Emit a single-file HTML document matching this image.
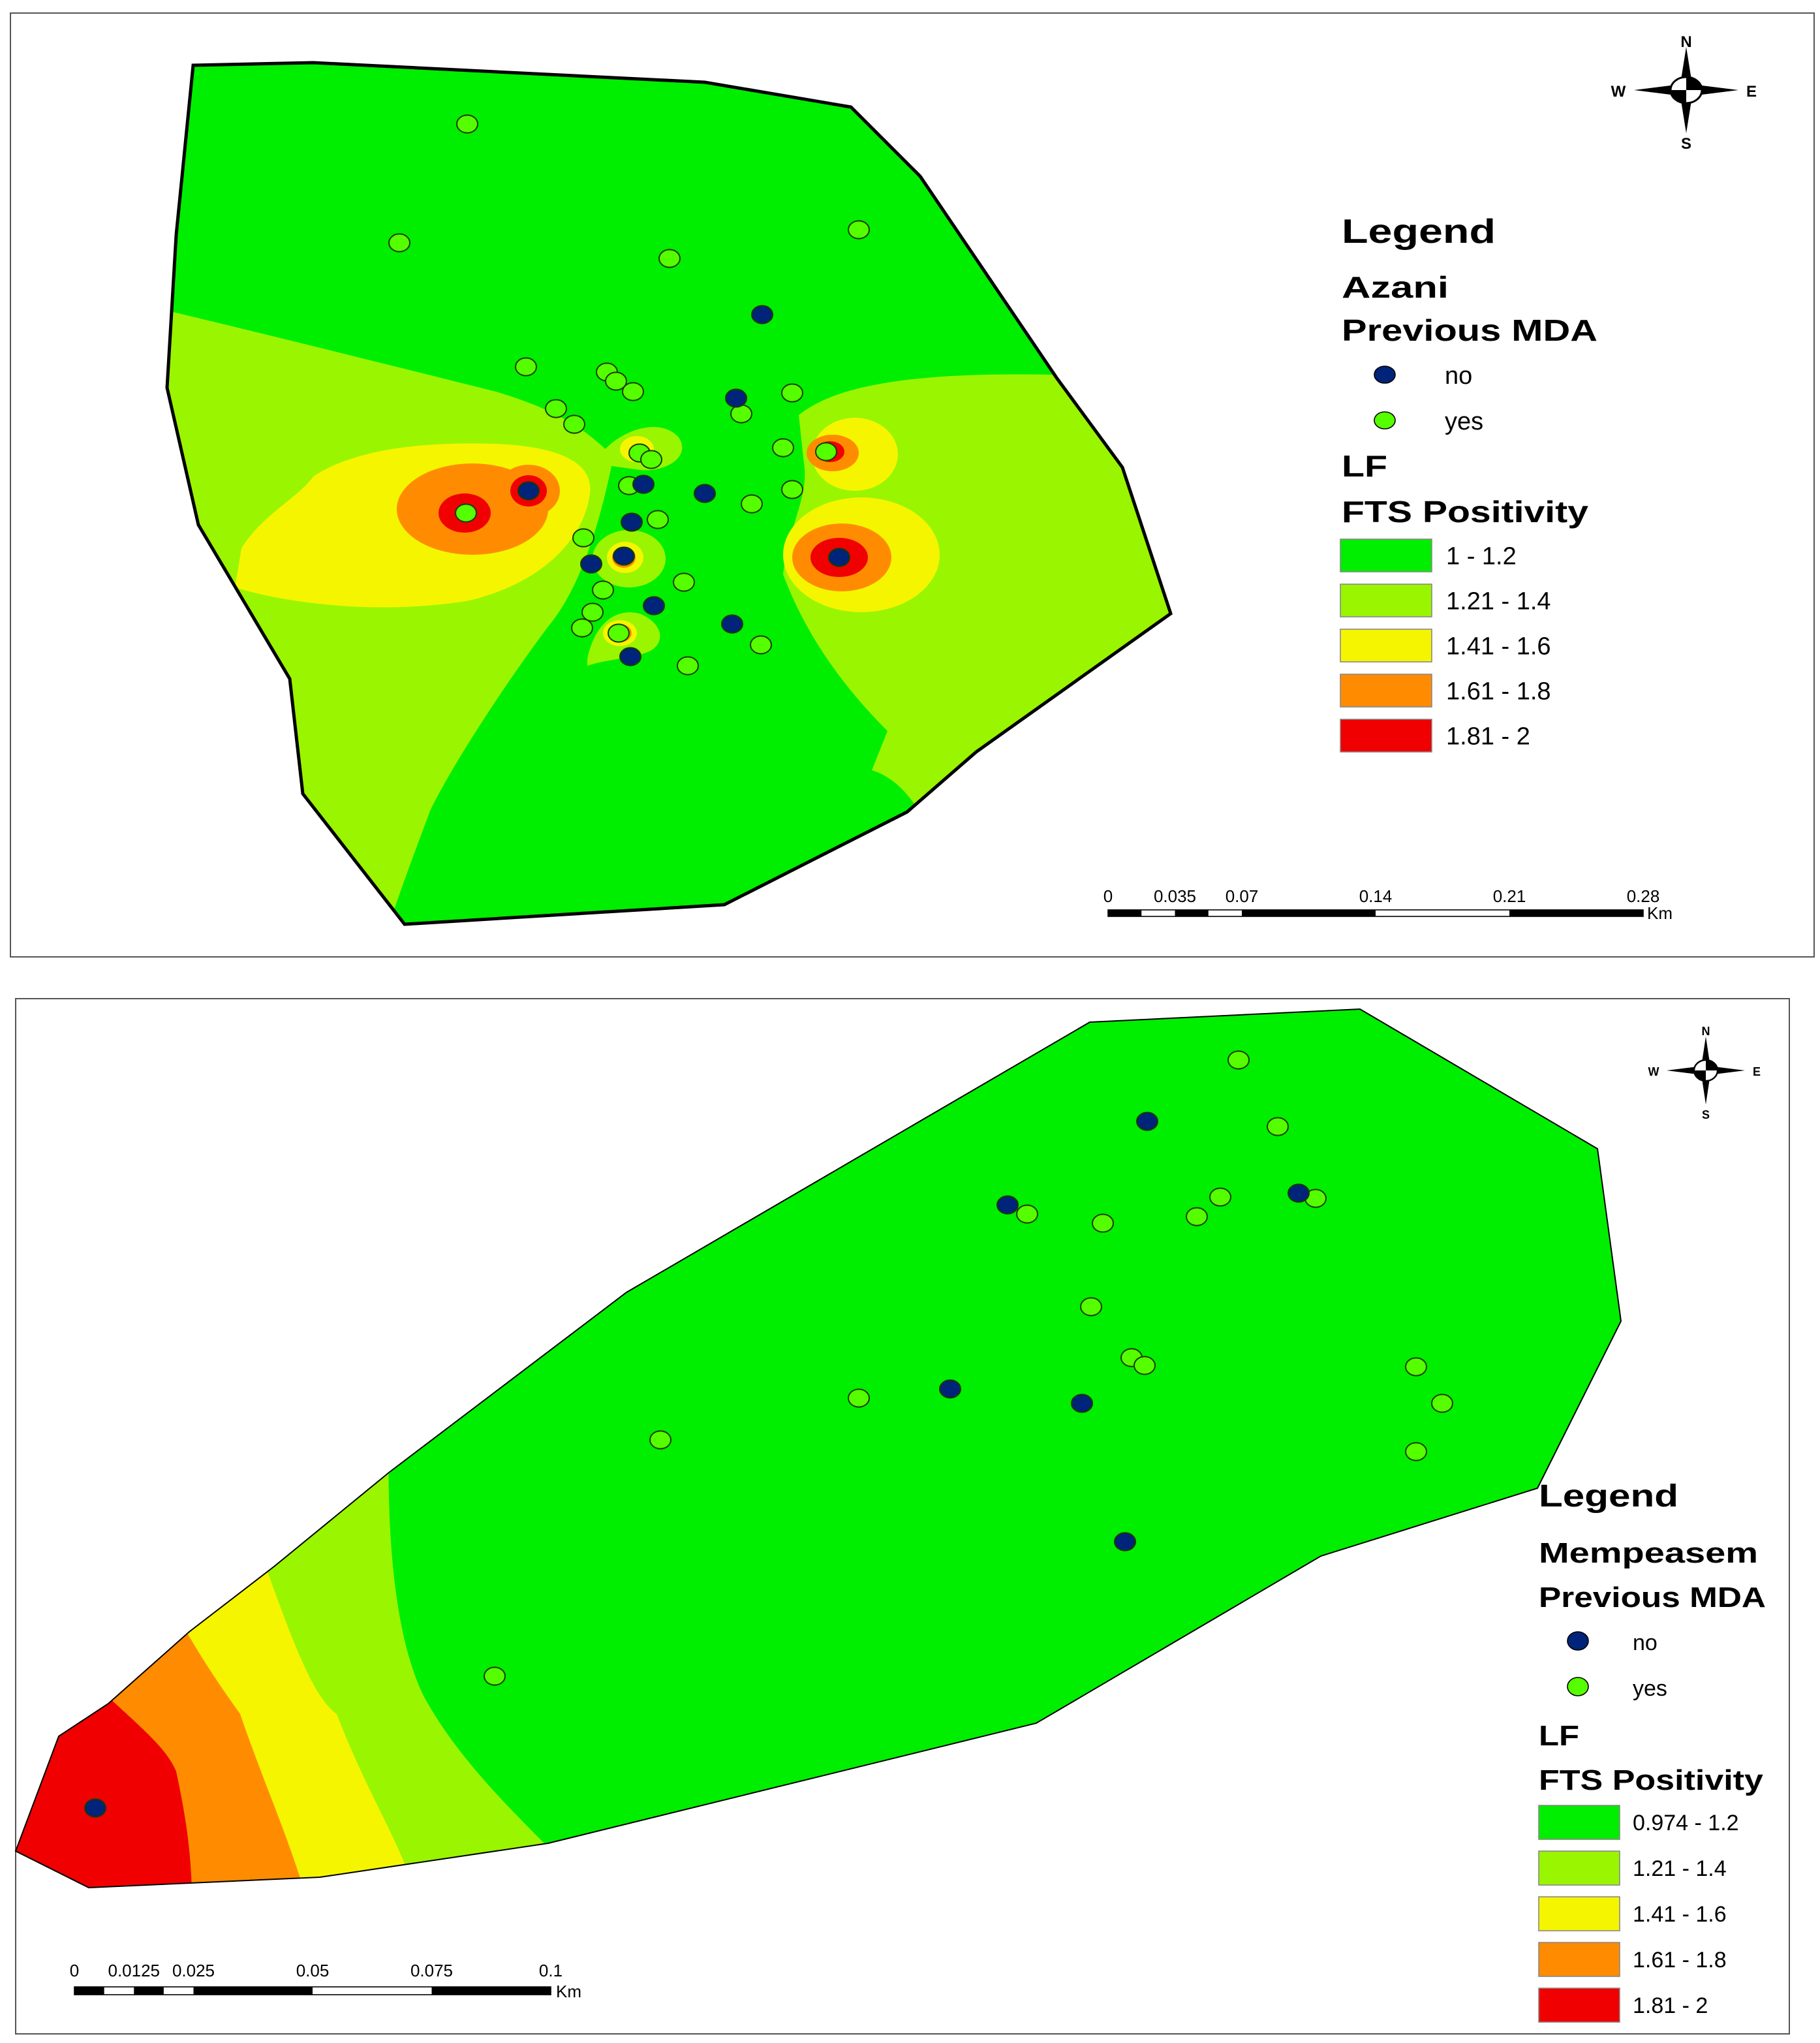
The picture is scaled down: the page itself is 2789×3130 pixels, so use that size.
<!DOCTYPE html>
<html><head><meta charset="utf-8">
<style>
html,body{margin:0;padding:0;background:#fff;}
svg{display:block;}
text{font-family:"Liberation Sans",sans-serif;}
.h{font-weight:bold;fill:#000;}
.l{fill:#000;}
</style></head>
<body>
<svg id="fig" width="2789" height="3130" viewBox="0 0 1394.5 1565" xmlns="http://www.w3.org/2000/svg">
<defs>
<clipPath id="clipA"><polygon points="148,50 240,48 540,63 652,82 705,135 810,290 860,358 897,470 748,576 695,622 555,693 310,708 232,608 222,520 152,402 128,297 135,180"/></clipPath>
<clipPath id="clipB"><polygon points="835,783 1042,773 1224,880 1242,1012 1178,1140 1012,1192 794,1320 420,1412 245,1438 68,1446 12,1418 45,1330 83,1305 145,1250 210,1200 298,1128 480,990"/></clipPath>
</defs>

<!-- TOP MAP -->
<g>
<rect x="8" y="10" width="1382" height="723" fill="#fff" stroke="#555" stroke-width="1"/>
<g clip-path="url(#clipA)">
<rect x="100" y="40" width="820" height="690" fill="#00ee00"/>
<path fill="#99f500" d="M120,236 C200,255 300,280 380,300 C430,315 450,330 470,350 C460,400 445,450 420,480 C390,520 350,580 330,620 C315,660 300,700 295,720 L100,720 Z"/>
<path fill="#99f500" d="M612,318 C640,295 700,285 805,287 L920,300 L920,720 L740,720 C720,640 700,600 668,590 L680,560 C640,520 615,480 600,440 C605,400 620,380 616,355 Z"/>
<path fill="#00ee00" d="M660,600 C670,620 680,640 690,650 L720,640 Z"/>
<path fill="#f5f500" d="M185,420 C200,395 230,380 240,365 C270,345 320,338 380,340 C430,342 455,355 452,378 C448,410 420,445 360,460 C300,470 230,465 180,450 Z"/>
<ellipse cx="362" cy="390" rx="58" ry="35" fill="#ff8c00"/>
<ellipse cx="405" cy="376" rx="24" ry="20" fill="#ff8c00"/>
<ellipse cx="356" cy="393" rx="20" ry="15" fill="#f00000"/>
<ellipse cx="405" cy="376" rx="14" ry="12" fill="#f00000"/>
<ellipse cx="660" cy="425" rx="60" ry="44" fill="#f5f500"/>
<ellipse cx="645" cy="427" rx="38" ry="26" fill="#ff8c00"/>
<ellipse cx="643" cy="427" rx="22" ry="15" fill="#f00000"/>
<ellipse cx="655" cy="348" rx="33" ry="28" fill="#f5f500"/>
<ellipse cx="638" cy="347" rx="20" ry="14" fill="#ff8c00"/>
<ellipse cx="636" cy="346" rx="11" ry="8" fill="#f00000"/>
<path fill="#99f500" d="M455,355 C470,330 505,318 520,335 C530,350 510,362 490,360 Z"/>
<ellipse cx="488" cy="344" rx="13" ry="10" fill="#f5f500"/>
<ellipse cx="482" cy="428" rx="28" ry="22" fill="#99f500"/>
<ellipse cx="479" cy="427" rx="14" ry="12" fill="#f5f500"/>
<ellipse cx="478" cy="427" rx="9" ry="8" fill="#ff8c00"/>
<path fill="#99f500" d="M450,505 C455,480 470,465 490,470 C510,478 510,495 495,500 C480,505 465,505 450,510 Z"/>
<ellipse cx="475" cy="485" rx="13" ry="10" fill="#f5f500"/>
<ellipse cx="475" cy="485" rx="9" ry="7" fill="#ff8c00"/>
</g>
<polygon points="148,50 240,48 540,63 652,82 705,135 810,290 860,358 897,470 748,576 695,622 555,693 310,708 232,608 222,520 152,402 128,297 135,180" fill="none" stroke="#000" stroke-width="2.5"/>
<g id="ptsA"></g>

<g transform="translate(1292,69)">
<polygon points="0,-33 4,-8 -4,-8" fill="#000"/><polygon points="0,33 4,8 -4,8" fill="#000"/>
<polygon points="-40,0 -8,-4 -8,4" fill="#000"/><polygon points="40,0 8,-4 8,4" fill="#000"/>
<ellipse cx="0" cy="0" rx="12" ry="10" fill="#fff" stroke="#000" stroke-width="1.5"/>
<path d="M0,0 L0,-10 A12,10 0 0 1 12,0 Z" fill="#000"/><path d="M0,0 L0,10 A12,10 0 0 1 -12,0 Z" fill="#000"/>
<text x="0" y="-33" text-anchor="middle" font-family="Liberation Serif" font-weight="bold" font-size="12">N</text>
<text x="0" y="45" text-anchor="middle" font-family="Liberation Serif" font-weight="bold" font-size="12">S</text>
<text x="-52" y="5" text-anchor="middle" font-family="Liberation Serif" font-weight="bold" font-size="12">W</text>
<text x="50" y="5" text-anchor="middle" font-family="Liberation Serif" font-weight="bold" font-size="12">E</text>
</g>

<g>
<text class="h" x="1028" y="186" font-size="26" textLength="118" lengthAdjust="spacingAndGlyphs">Legend</text>
<text class="h" x="1028" y="228" font-size="23" textLength="82" lengthAdjust="spacingAndGlyphs">Azani</text>
<text class="h" x="1028" y="261" font-size="23" textLength="196" lengthAdjust="spacingAndGlyphs">Previous MDA</text>
<ellipse cx="1061" cy="287" rx="8" ry="6.5" fill="#00247a" stroke="#000" stroke-width="0.8"/>
<text class="l" x="1107" y="294" font-size="19">no</text>
<ellipse cx="1061" cy="322" rx="8" ry="6.5" fill="#55ff00" stroke="#000" stroke-width="0.8"/>
<text class="l" x="1107" y="329" font-size="19">yes</text>
<text class="h" x="1028" y="365" font-size="23" textLength="35" lengthAdjust="spacingAndGlyphs">LF</text>
<text class="h" x="1028" y="400" font-size="23" textLength="189" lengthAdjust="spacingAndGlyphs">FTS Positivity</text>
<g id="legA"></g>
</g>

<g>
<g id="scaleA"></g>
</g>
</g>

<!-- BOTTOM MAP -->
<g>
<rect x="12" y="765" width="1359" height="793" fill="#fff" stroke="#555" stroke-width="1"/>
<g clip-path="url(#clipB)">
<rect x="0" y="760" width="1260" height="700" fill="#00ee00"/>
<path fill="#99f500" d="M0,1100 L298,1100 C296,1190 305,1260 325,1300 C350,1345 385,1380 425,1420 L0,1460 Z"/>
<path fill="#f5f500" d="M0,1100 L200,1190 C225,1260 240,1300 258,1313 C280,1370 300,1400 315,1440 L0,1460 Z"/>
<path fill="#ff8c00" d="M0,1100 L140,1245 C160,1280 175,1300 184,1313 C200,1360 218,1400 232,1445 L0,1460 Z"/>
<path fill="#f00000" d="M0,1100 L83,1300 C110,1325 128,1340 135,1357 C142,1390 146,1415 147,1448 L0,1460 Z"/>
</g>
<polygon points="835,783 1042,773 1224,880 1242,1012 1178,1140 1012,1192 794,1320 420,1412 245,1438 68,1446 12,1418 45,1330 83,1305 145,1250 210,1200 298,1128 480,990" fill="none" stroke="#000" stroke-width="1"/>
<g id="ptsB"></g>

<g transform="translate(1307,820)">
<polygon points="0,-26 3,-6 -3,-6" fill="#000"/><polygon points="0,26 3,6 -3,6" fill="#000"/>
<polygon points="-30,0 -6,-3 -6,3" fill="#000"/><polygon points="30,0 6,-3 6,3" fill="#000"/>
<ellipse cx="0" cy="0" rx="9" ry="8" fill="#fff" stroke="#000" stroke-width="1.2"/>
<path d="M0,0 L0,-8 A9,8 0 0 1 9,0 Z" fill="#000"/><path d="M0,0 L0,8 A9,8 0 0 1 -9,0 Z" fill="#000"/>
<text x="0" y="-27" text-anchor="middle" font-family="Liberation Serif" font-weight="bold" font-size="9">N</text>
<text x="0" y="37" text-anchor="middle" font-family="Liberation Serif" font-weight="bold" font-size="9">S</text>
<text x="-40" y="4" text-anchor="middle" font-family="Liberation Serif" font-weight="bold" font-size="9">W</text>
<text x="39" y="4" text-anchor="middle" font-family="Liberation Serif" font-weight="bold" font-size="9">E</text>
</g>

<g>
<text class="h" x="1179" y="1154" font-size="24" textLength="107" lengthAdjust="spacingAndGlyphs">Legend</text>
<text class="h" x="1179" y="1197" font-size="22" textLength="168" lengthAdjust="spacingAndGlyphs">Mempeasem</text>
<text class="h" x="1179" y="1231" font-size="22" textLength="174" lengthAdjust="spacingAndGlyphs">Previous MDA</text>
<ellipse cx="1209" cy="1257" rx="8" ry="7" fill="#00247a" stroke="#000" stroke-width="0.8"/>
<text class="l" x="1251" y="1264" font-size="17">no</text>
<ellipse cx="1209" cy="1292" rx="8" ry="7" fill="#55ff00" stroke="#000" stroke-width="0.8"/>
<text class="l" x="1251" y="1299" font-size="17">yes</text>
<text class="h" x="1179" y="1337" font-size="22" textLength="31" lengthAdjust="spacingAndGlyphs">LF</text>
<text class="h" x="1179" y="1371" font-size="22" textLength="172" lengthAdjust="spacingAndGlyphs">FTS Positivity</text>
<g id="legB"></g>
</g>
<g><g id="scaleB"></g></g>
</g>
</svg>
<script>
// Azani sample points (half-scale coords of the figure)
const azaniYesX=[358,306,513,658,403,465,472,485,426,440,607,568,600,490,499,633,482,607,576,504,447,357,524,462,454,446,474,583,527];
const azaniYesY=[95,186,198,176,281,285,292,300,313,325,301,317,343,347,352,346,372,375,386,398,412,393,446,452,469,481,485,494,510];
const azaniNoX=[584,564,405,493,540,484,478,453,643,501,561,483];
const azaniNoY=[241,305,376,371,378,400,426,432,427,464,478,503];
const mempYesX=[949,979,787,845,917,935,1008,836,867,877,658,506,1085,1105,1085,379];
const mempYesY=[812,863,930,937,932,917,918,1001,1040,1046,1071,1103,1047,1075,1112,1284];
const mempNoX=[879,772,995,728,829,862,73];
const mempNoY=[859,923,914,1064,1075,1181,1385];
const classColors=["#00ee00","#99f500","#f5f500","#ff8c00","#f00000"];
const azaniClasses=["1 - 1.2","1.21 - 1.4","1.41 - 1.6","1.61 - 1.8","1.81 - 2"];
const mempClasses=["0.974 - 1.2","1.21 - 1.4","1.41 - 1.6","1.61 - 1.8","1.81 - 2"];
const scaleLabelsA=["0","0.035","0.07","0.14","0.21","0.28"];
const scaleValsA=[0,0.035,0.07,0.14,0.21,0.28];
const scaleLabelsB=["0","0.0125","0.025","0.05","0.075","0.1"];
const scaleValsB=[0,0.0125,0.025,0.05,0.075,0.1];

const NS="http://www.w3.org/2000/svg";
function mk(tag,parent){const e=document.createElementNS(NS,tag);parent.appendChild(e);return e;}
function drawPts(gid,xs,ys,fill,name){
  const g=document.getElementById(gid);
  xs.forEach((x,i)=>{
    const e=mk('ellipse',g);
    e.setAttribute('cx',x);e.setAttribute('cy',ys[i]);e.setAttribute('rx',8);e.setAttribute('ry',6.8);
    e.setAttribute('fill',fill);e.setAttribute('stroke','#1a3a00');e.setAttribute('stroke-width','1');
    
    
  });
}
drawPts('ptsA',azaniYesX,azaniYesY,'#55ff00','mda-yes-point');
drawPts('ptsA',azaniNoX,azaniNoY,'#00247a','mda-no-point');
drawPts('ptsB',mempYesX,mempYesY,'#55ff00','mda-yes-point');
drawPts('ptsB',mempNoX,mempNoY,'#00247a','mda-no-point');

function drawLeg(gid,labels,x,y0,w,h,step,tx,fs){
  const g=document.getElementById(gid);
  labels.forEach((lab,i)=>{
    const r=mk('rect',g);
    r.setAttribute('x',x);r.setAttribute('y',y0+i*step);r.setAttribute('width',w);r.setAttribute('height',h);
    r.setAttribute('fill',classColors[i]);r.setAttribute('stroke','#888');r.setAttribute('stroke-width','0.8');
    
    
    const t=mk('text',g);
    t.setAttribute('x',tx);t.setAttribute('y',y0+i*step+h/2+fs*0.36);t.setAttribute('font-size',fs);
    t.textContent=lab;
    
    
  });
}
drawLeg('legA',azaniClasses,1027,413,70,25,34.5,1108,19);
drawLeg('legB',mempClasses,1179,1383,62,26,35,1251,17);

function drawScale(gid,vals,labels,x0,x1,y,h,ly,fs,kmx){
  const g=document.getElementById(gid);
  const max=vals[vals.length-1];
  const sx=v=>x0+(x1-x0)*v/max;
  const bg=mk('rect',g);
  bg.setAttribute('x',x0);bg.setAttribute('y',y);bg.setAttribute('width',x1-x0);bg.setAttribute('height',h);
  bg.setAttribute('fill','#fff');bg.setAttribute('stroke','#000');bg.setAttribute('stroke-width','0.8');
  const segs=[];
  const q=vals[1]/2;
  segs.push([0,q],[q,vals[1]],[vals[1],vals[1]+q],[vals[1]+q,vals[2]]);
  for(let i=2;i<vals.length-1;i++)segs.push([vals[i],vals[i+1]]);
  segs.forEach((s,i)=>{
    if(i%2===0){
      const r=mk('rect',g);
      r.setAttribute('x',sx(s[0]));r.setAttribute('y',y);r.setAttribute('width',sx(s[1])-sx(s[0]));r.setAttribute('height',h);r.setAttribute('fill','#000');
      
      
    }
  });
  vals.forEach((v,i)=>{
    const t=mk('text',g);
    t.setAttribute('x',sx(v));t.setAttribute('y',ly);t.setAttribute('font-size',fs);t.setAttribute('text-anchor','middle');
    t.textContent=labels[i];
    
    
  });
  const k=mk('text',g);
  k.setAttribute('x',kmx);k.setAttribute('y',y+h+2);k.setAttribute('font-size',fs);k.textContent='Km';
  
  
}
drawScale('scaleA',scaleValsA,scaleLabelsA,849,1259,697,5,691,13,1262);
drawScale('scaleB',scaleValsB,scaleLabelsB,57,422,1522,6,1514,13,426);
</script>
</body></html>
